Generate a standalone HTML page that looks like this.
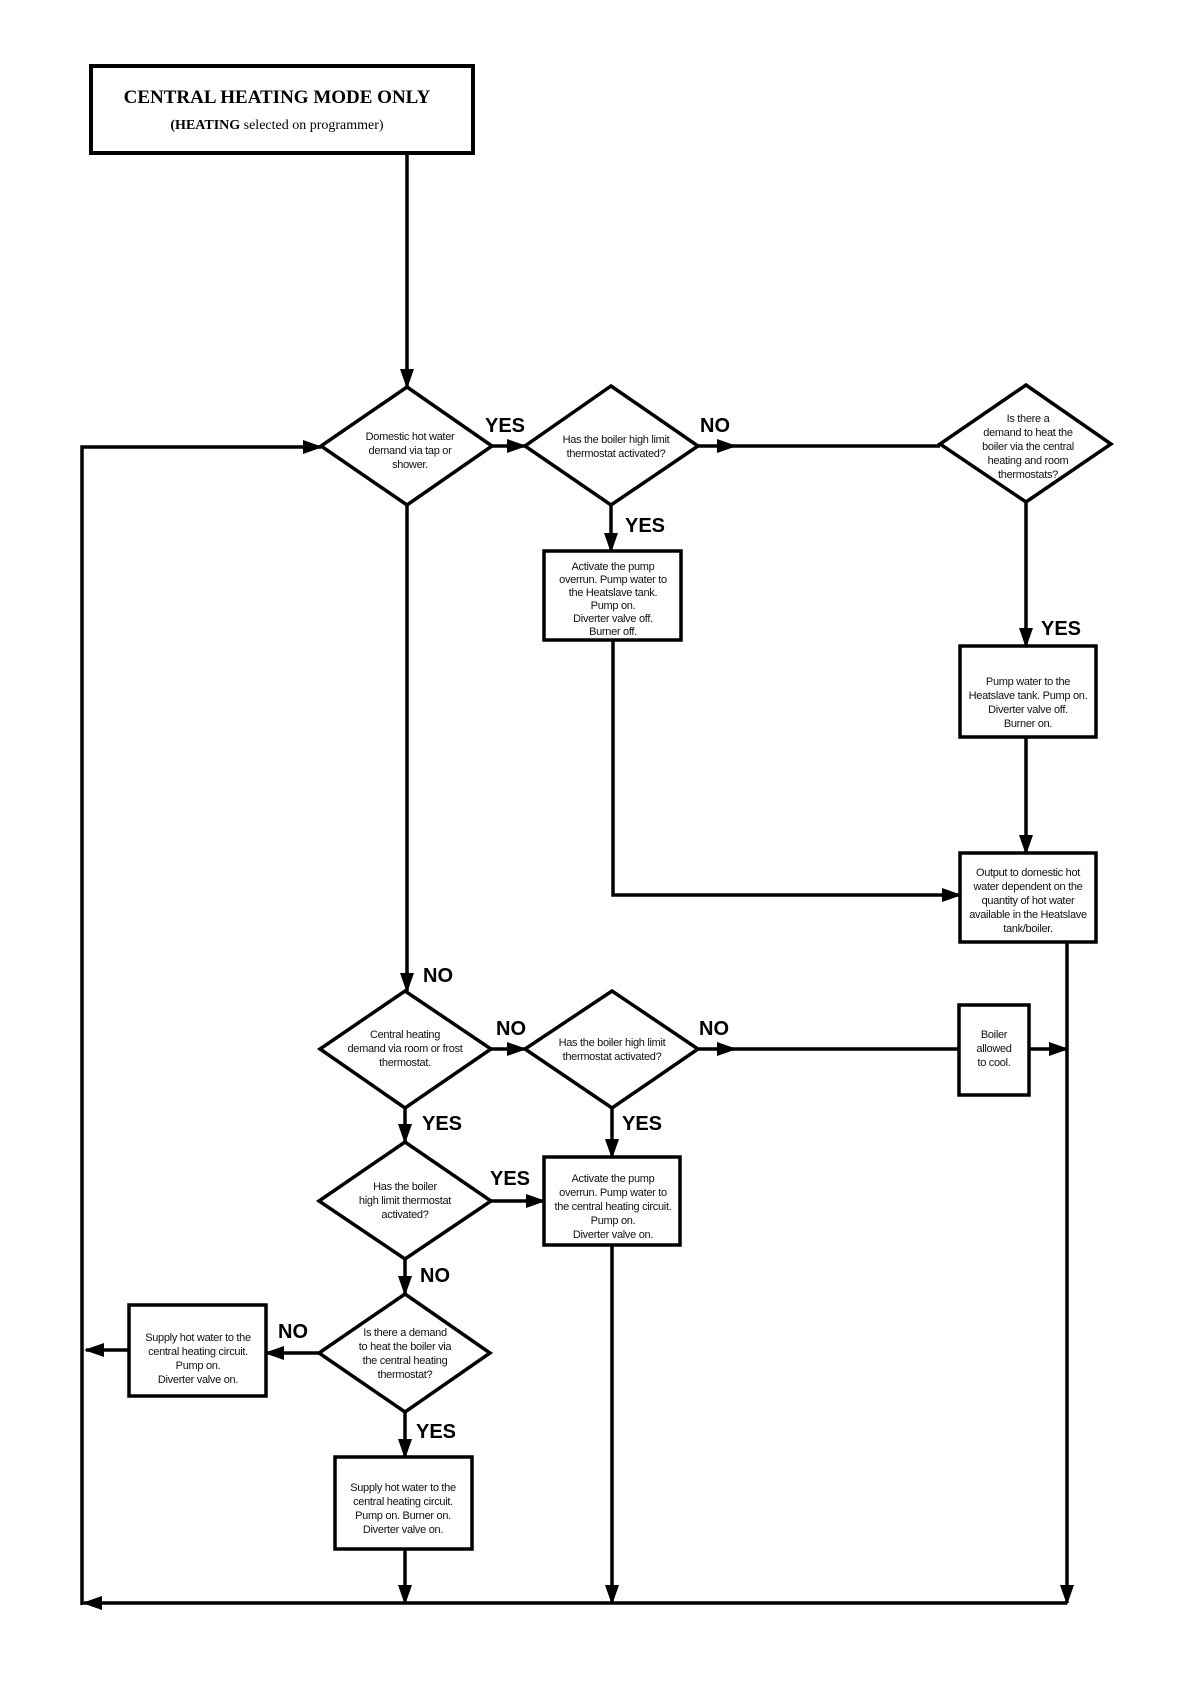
<!DOCTYPE html>
<html><head><meta charset="utf-8"><style>
html,body{margin:0;padding:0;background:#fff;}
svg{display:block;}
.t{font-family:"Liberation Sans",sans-serif;font-size:11px;fill:#111;text-anchor:middle;letter-spacing:-0.3px;}
.l{font-family:"Liberation Sans",sans-serif;font-size:20px;font-weight:bold;fill:#000;}
</style></head><body>
<svg width="1190" height="1684" viewBox="0 0 1190 1684" xmlns="http://www.w3.org/2000/svg">
<defs>
<marker id="a" markerUnits="userSpaceOnUse" markerWidth="20" markerHeight="14" refX="18" refY="7" orient="auto">
<polygon points="0,0 20,7 0,14" fill="#000"/></marker>
</defs>
<g fill="none" stroke="#000" stroke-width="3.5">
<rect x="91" y="66" width="382" height="87" stroke-width="4"/>
<polygon points="407,387 492,446 407,505 321,446"/>
<polygon points="611,386 698,446 611,505 525,446"/>
<polygon points="1026,385 1111,444 1026,502 940,444"/>
<rect x="544" y="551" width="137" height="89"/>
<rect x="960" y="646" width="136" height="91"/>
<rect x="960" y="853" width="136" height="89"/>
<polygon points="405,991 491,1049 405,1108 320,1049"/>
<polygon points="612,991 698,1049 612,1108 525,1049"/>
<rect x="959" y="1005" width="70" height="90"/>
<polygon points="405,1142 491,1201 405,1259 319,1201"/>
<rect x="544" y="1157" width="136" height="88"/>
<polygon points="405,1294 490,1353 405,1412 319,1353"/>
<rect x="129" y="1305" width="137" height="91"/>
<rect x="335" y="1457" width="137" height="92"/>

<line x1="407" y1="153" x2="407" y2="387" marker-end="url(#a)"/>
<line x1="492" y1="446" x2="525" y2="446" marker-end="url(#a)"/>
<line x1="698" y1="446" x2="735" y2="446" marker-end="url(#a)"/>
<line x1="735" y1="446" x2="940" y2="446"/>
<line x1="611" y1="505" x2="611" y2="551" marker-end="url(#a)"/>
<line x1="1026" y1="502" x2="1026" y2="646" marker-end="url(#a)"/>
<line x1="1026" y1="737" x2="1026" y2="853" marker-end="url(#a)"/>
<polyline points="613,640 613,895 960,895" marker-end="url(#a)"/>
<line x1="1067" y1="942" x2="1067" y2="1603" marker-end="url(#a)"/>
<line x1="1067" y1="1603" x2="84" y2="1603" marker-end="url(#a)"/>
<polyline points="82,1605 82,447 321,447" marker-end="url(#a)"/>
<line x1="407" y1="505" x2="407" y2="991" marker-end="url(#a)"/>
<line x1="491" y1="1049" x2="525" y2="1049" marker-end="url(#a)"/>
<line x1="698" y1="1049" x2="735" y2="1049" marker-end="url(#a)"/>
<line x1="735" y1="1049" x2="959" y2="1049"/>
<line x1="1029" y1="1049" x2="1067" y2="1049" marker-end="url(#a)"/>
<line x1="612" y1="1108" x2="612" y2="1157" marker-end="url(#a)"/>
<line x1="405" y1="1108" x2="405" y2="1142" marker-end="url(#a)"/>
<line x1="491" y1="1201" x2="544" y2="1201" marker-end="url(#a)"/>
<line x1="405" y1="1259" x2="405" y2="1294" marker-end="url(#a)"/>
<line x1="319" y1="1353" x2="266" y2="1353" marker-end="url(#a)"/>
<line x1="129" y1="1350" x2="86" y2="1350" marker-end="url(#a)"/>
<line x1="405" y1="1412" x2="405" y2="1457" marker-end="url(#a)"/>
<line x1="405" y1="1549" x2="405" y2="1603" marker-end="url(#a)"/>
<line x1="612" y1="1245" x2="612" y2="1603" marker-end="url(#a)"/>
</g>

<text x="277" y="103" font-family="Liberation Serif,serif" font-size="19" font-weight="bold" text-anchor="middle">CENTRAL HEATING MODE ONLY</text>
<text x="277" y="129" font-family="Liberation Serif,serif" font-size="14" text-anchor="middle"><tspan font-weight="bold">(HEATING</tspan> selected on programmer)</text>

<text class="l" x="485" y="432">YES</text>
<text class="l" x="700" y="432">NO</text>
<text class="l" x="625" y="532">YES</text>
<text class="l" x="1041" y="635">YES</text>
<text class="l" x="423" y="982">NO</text>
<text class="l" x="496" y="1035">NO</text>
<text class="l" x="699" y="1035">NO</text>
<text class="l" x="622" y="1130">YES</text>
<text class="l" x="422" y="1130">YES</text>
<text class="l" x="490" y="1185">YES</text>
<text class="l" x="420" y="1282">NO</text>
<text class="l" x="278" y="1338">NO</text>
<text class="l" x="416" y="1438">YES</text>

<g class="t">
<text x="410" y="440">Domestic hot water</text><text x="410" y="454">demand via tap or</text><text x="410" y="468">shower.</text>
<text x="616" y="443">Has the boiler high limit</text><text x="616" y="457">thermostat activated?</text>
<text x="1028" y="422">Is there a</text><text x="1028" y="436">demand to heat the</text><text x="1028" y="450">boiler via the central</text><text x="1028" y="464">heating and room</text><text x="1028" y="478">thermostats?</text>
<text x="613" y="570">Activate the pump</text><text x="613" y="583">overrun. Pump water to</text><text x="613" y="596">the Heatslave tank.</text><text x="613" y="609">Pump on.</text><text x="613" y="622">Diverter valve off.</text><text x="613" y="635">Burner off.</text>
<text x="1028" y="685">Pump water to the</text><text x="1028" y="699">Heatslave tank. Pump on.</text><text x="1028" y="713">Diverter valve off.</text><text x="1028" y="727">Burner on.</text>
<text x="1028" y="876">Output to domestic hot</text><text x="1028" y="890">water dependent on the</text><text x="1028" y="904">quantity of hot water</text><text x="1028" y="918">available in the Heatslave</text><text x="1028" y="932">tank/boiler.</text>
<text x="405" y="1038">Central heating</text><text x="405" y="1052">demand via room or frost</text><text x="405" y="1066">thermostat.</text>
<text x="612" y="1046">Has the boiler high limit</text><text x="612" y="1060">thermostat activated?</text>
<text x="994" y="1038">Boiler</text><text x="994" y="1052">allowed</text><text x="994" y="1066">to cool.</text>
<text x="405" y="1190">Has the boiler</text><text x="405" y="1204">high limit thermostat</text><text x="405" y="1218">activated?</text>
<text x="613" y="1182">Activate the pump</text><text x="613" y="1196">overrun. Pump water to</text><text x="613" y="1210">the central heating circuit.</text><text x="613" y="1224">Pump on.</text><text x="613" y="1238">Diverter valve on.</text>
<text x="405" y="1336">Is there a demand</text><text x="405" y="1350">to heat the boiler via</text><text x="405" y="1364">the central heating</text><text x="405" y="1378">thermostat?</text>
<text x="198" y="1341">Supply hot water to the</text><text x="198" y="1355">central heating circuit.</text><text x="198" y="1369">Pump on.</text><text x="198" y="1383">Diverter valve on.</text>
<text x="403" y="1491">Supply hot water to the</text><text x="403" y="1505">central heating circuit.</text><text x="403" y="1519">Pump on. Burner on.</text><text x="403" y="1533">Diverter valve on.</text>
</g>
</svg>
</body></html>
